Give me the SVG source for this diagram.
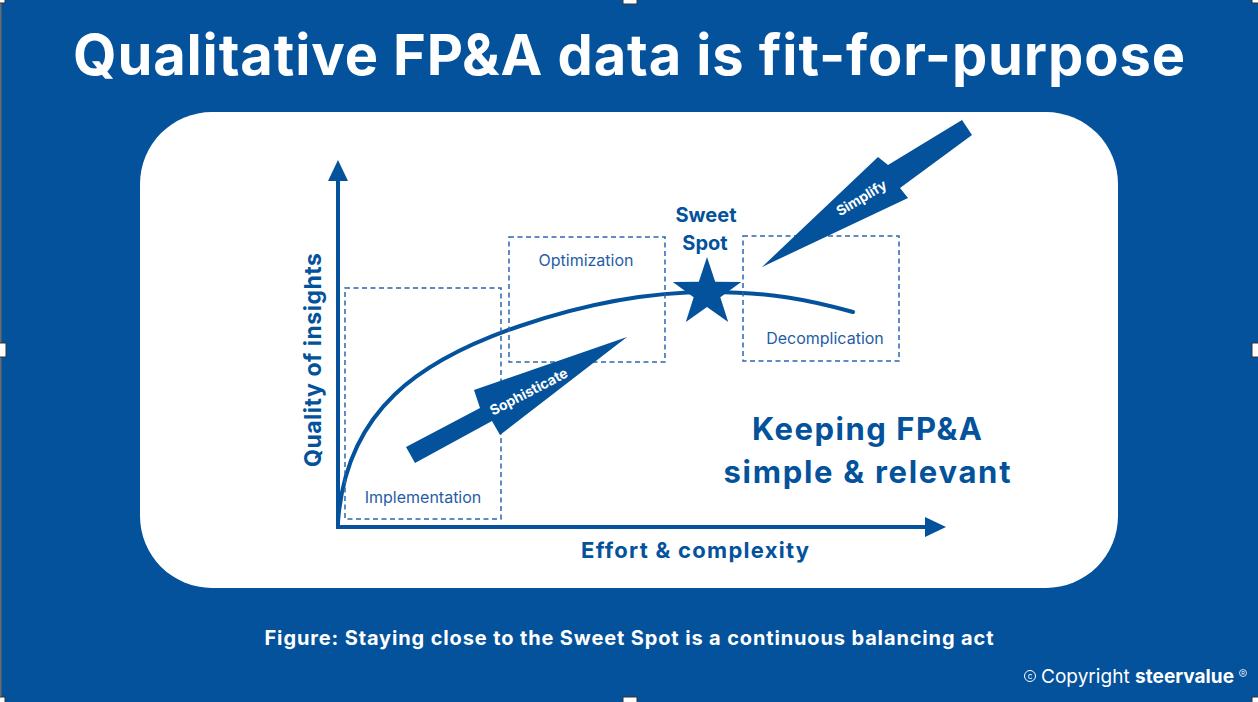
<svg xmlns="http://www.w3.org/2000/svg" width="1258" height="702" viewBox="0 0 1258 702">
<defs>
<style>
.bg{fill:#03529B}
.panel{fill:#ffffff}
.axis{stroke:#03529B;stroke-width:4;fill:none}
.head{fill:#03529B}
.curve{stroke:#03529B;stroke-width:4;fill:none;stroke-linecap:round}
.box{fill:none;stroke:#2A67AC;stroke-width:1.5;stroke-dasharray:5 3.5}
.lbl{font-family:Inter,"Open Sans","Liberation Sans",sans-serif;font-size:16px;fill:#1F5EA5;text-anchor:middle}
.bold{font-family:Inter,"Open Sans","Liberation Sans",sans-serif;font-weight:700;text-anchor:middle}
.blue{fill:#03529B}
.white{fill:#ffffff}
.shape{fill:#03529B}
.handle{fill:#ffffff;stroke:#333333;stroke-width:1}
</style>
</defs>
<rect class="bg" x="0" y="0" width="1258" height="702"/>
<rect x="0" y="0" width="1.5" height="702" fill="#6b6b6b"/>

<text class="bold white" x="629" y="75" font-size="56" textLength="1112">Qualitative FP&amp;A data is fit-for-purpose</text>

<rect class="panel" x="140" y="112" width="978" height="476" rx="72" ry="72"/>

<g id="axes">
<line class="axis" x1="338" y1="529" x2="338" y2="176"/>
<polygon class="head" points="328,181 338,160 348,181"/>
<line class="axis" x1="336" y1="527" x2="928" y2="527"/>
<polygon class="head" points="925,517 946,527 925,537"/>
<text class="bold blue" font-size="23" transform="translate(321,360) rotate(-90)" textLength="214">Quality of insights</text>
<text class="bold blue" x="695" y="558" font-size="22" textLength="228">Effort &amp; complexity</text>
</g>

<g id="connectors">
<path class="curve" d="M338,522 C346,410 420,360 520,326 C590,302 650,292 710,292 C770,292 810,300 853,312"/>
</g>

<g id="implementation">
<rect class="box" x="345" y="288" width="156" height="231"/>
<text class="lbl" x="423" y="503">Implementation</text>
</g>
<g id="optimization">
<rect class="box" x="509" y="237" width="156" height="125"/>
<text class="lbl" x="586" y="266">Optimization</text>
</g>
<g id="decomplication">
<rect class="box" x="743" y="236" width="156" height="125"/>
<text class="lbl" x="825" y="344">Decomplication</text>
</g>

<g id="sweet-spot">
<text class="bold blue" x="706" y="222" font-size="20">Sweet</text>
<text class="bold blue" x="705" y="250" font-size="20">Spot</text>
<polygon class="shape" points="707,257 715.2,281.7 741.2,281.9 720.3,297.3 728.2,322.1 707,307 685.8,322.1 693.7,297.3 672.8,281.9 698.8,281.7"/>
</g>

<g id="sophisticate">
<polygon class="shape" points="406,447 480,408 474,390 627,337 500,435 492,421 415,463"/>
<text class="bold white" font-size="14" transform="translate(531,396) rotate(-27.5)">Sophisticate</text>
</g>

<g id="simplify">
<polygon class="shape" points="962,120 972,135 900,188 908,198 762,267 878,157 888,165"/>
<text class="bold white" font-size="14" transform="translate(864,202) rotate(-31)">Simplify</text>
</g>

<g id="tagline">
<text class="bold blue" x="867" y="440" font-size="31" textLength="230">Keeping FP&amp;A</text>
<text class="bold blue" x="867" y="483" font-size="31" textLength="287">simple &amp; relevant</text>
</g>

<text class="bold white" x="629" y="645" font-size="20" textLength="729">Figure: Staying close to the Sweet Spot is a continuous balancing act</text>

<g id="copyright">
<circle cx="1030" cy="676" r="5.5" fill="none" stroke="#ffffff" stroke-width="1"/>
<text x="1030" y="679" font-family="Inter,'Liberation Sans',sans-serif" font-size="8" fill="#ffffff" text-anchor="middle">c</text>
<text x="1041" y="683" font-family="Inter,'Open Sans','Liberation Sans',sans-serif" font-size="19" fill="#ffffff" textLength="193">Copyright <tspan font-weight="700">steervalue</tspan></text>
<circle cx="1243" cy="673" r="3.5" fill="none" stroke="#ffffff" stroke-width="0.8"/>
<text x="1243" y="675" font-family="'Liberation Sans',sans-serif" font-size="5" fill="#ffffff" text-anchor="middle">R</text>
</g>

<g id="handles">
<rect class="handle" x="-4" y="-4" width="9" height="7"/>
<rect class="handle" x="623" y="-4" width="14" height="8"/>
<rect class="handle" x="1252" y="-4" width="10" height="7"/>
<rect class="handle" x="-4" y="343" width="10" height="14"/>
<rect class="handle" x="1252" y="343" width="10" height="14"/>
<rect class="handle" x="-4" y="697" width="9" height="9"/>
<rect class="handle" x="623" y="697" width="14" height="9"/>
<rect class="handle" x="1252" y="697" width="10" height="9"/>
</g>
</svg>
